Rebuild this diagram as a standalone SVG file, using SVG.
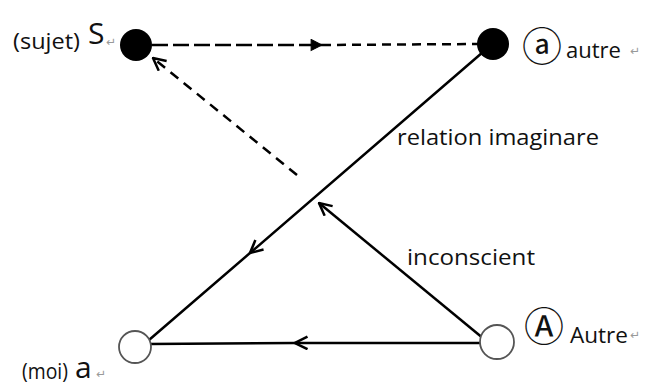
<svg xmlns="http://www.w3.org/2000/svg" width="646" height="387" viewBox="0 0 646 387">
<style>
.t{font-family:"Open Sans","Noto Sans","Liberation Sans",sans-serif;fill:#111;font-size:22px}
.big{font-family:"Open Sans","Noto Sans",sans-serif;fill:#111;font-size:30px}
.circ{font-family:"Noto Sans CJK SC","DejaVu Sans",sans-serif;fill:#111;font-size:40px}
.pm{font-family:"DejaVu Sans",sans-serif;fill:#999;font-size:12px}
.ln{fill:none;stroke:#000;stroke-width:2.5}
.open{fill:#fff;stroke:#555;stroke-width:1.8}
</style>
<defs>
<marker id="arr" viewBox="0 0 12 12" refX="11" refY="6" markerWidth="15" markerHeight="15" markerUnits="userSpaceOnUse" orient="auto">
<path d="M1,1 L11,6 L1,11" fill="none" stroke="#000" stroke-width="2"/>
</marker>
<marker id="arrf" viewBox="0 0 12 12" refX="11" refY="6" markerWidth="13" markerHeight="13" markerUnits="userSpaceOnUse" orient="auto">
<path d="M1,1 L11,6 L1,11 Z" fill="#000" stroke="#000" stroke-width="1"/>
</marker>
</defs>
<rect width="646" height="387" fill="#fff"/>
<g id="connectors">
<path class="ln" d="M152,45 L322,45" stroke-width="3.2" stroke-dasharray="16,5" marker-end="url(#arrf)"/>
<path class="ln" d="M322,45 L478,44" stroke-width="2" stroke-dasharray="9,6"/>
<path class="ln" d="M297,175 L153,58" stroke-dasharray="10,7" marker-end="url(#arr)"/>
<path class="ln" d="M483,52 L250,253 L149,340" marker-mid="url(#arr)"/>
<path class="ln" d="M484,339 L319,203" marker-end="url(#arr)"/>
<path class="ln" d="M481,343 L295,343 L149,344" marker-mid="url(#arr)"/>
</g>
<g id="node-S">
<circle cx="136" cy="45" r="16" fill="#000"/>
<text class="t" x="13" y="49" textLength="67" lengthAdjust="spacingAndGlyphs">(sujet)</text>
<text class="big" x="88" y="44">S</text>
<text class="pm" x="106" y="46">↵</text>
</g>
<g id="node-a">
<circle cx="493" cy="44" r="16" fill="#000"/>
<text class="circ" x="522" y="61">ⓐ</text>
<text class="t" x="566" y="58" textLength="55" lengthAdjust="spacingAndGlyphs">autre</text>
<text class="pm" x="630" y="55">↵</text>
</g>
<g id="node-moi">
<circle class="open" cx="135" cy="347" r="16"/>
<text class="t" x="22" y="379" textLength="46" lengthAdjust="spacingAndGlyphs">(moi)</text>
<text class="big" x="75" y="378" font-size="28">a</text>
<text class="pm" x="96" y="378">↵</text>
</g>
<g id="node-A">
<circle class="open" cx="497" cy="342" r="17"/>
<text class="circ" x="524" y="341">Ⓐ</text>
<text class="t" x="570" y="343" textLength="58" lengthAdjust="spacingAndGlyphs">Autre</text>
<text class="pm" x="630" y="339">↵</text>
</g>
<g id="labels">
<text class="t" x="397" y="145" textLength="202" lengthAdjust="spacingAndGlyphs">relation imaginare</text>
<text class="t" x="407" y="265" textLength="128" lengthAdjust="spacingAndGlyphs">inconscient</text>
</g>
</svg>
